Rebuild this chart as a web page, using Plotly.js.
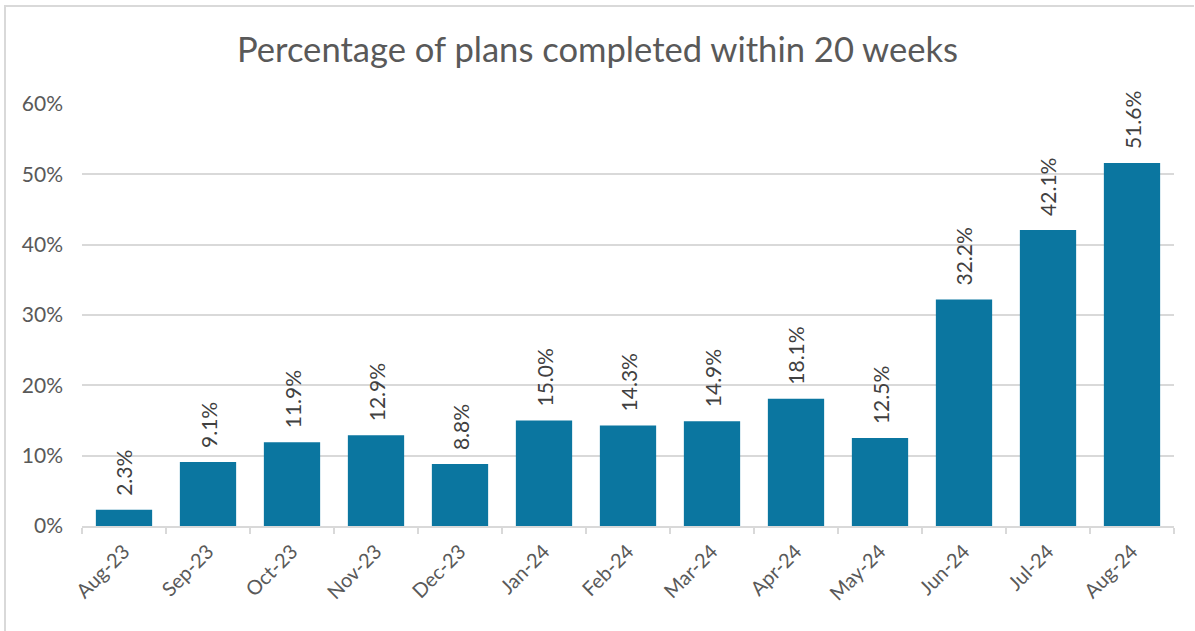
<!DOCTYPE html>
<html>
<head>
<meta charset="utf-8">
<script src="https://cdn.plot.ly/plotly-3.0.1.min.js"></script>
<style>
html,body{margin:0;padding:0;background:#fff;overflow:hidden;width:1195px;height:631px;}
#chart{width:1195px;height:631px;}
</style>
</head>
<body>
<div id="chart"></div>
<script>
const months = ["Aug-23","Sep-23","Oct-23","Nov-23","Dec-23","Jan-24","Feb-24","Mar-24","Apr-24","May-24","Jun-24","Jul-24","Aug-24"];
const pctCompleted = [2.3, 9.1, 11.9, 12.9, 8.8, 15.0, 14.3, 14.9, 18.1, 12.5, 32.2, 42.1, 51.6];
const yTickVals = [0, 10, 20, 30, 40, 50, 60];
const yTickText = ["0%","10%","20%","30%","40%","50%","60%"];
const chartTitle = "Percentage of plans completed within 20 weeks";

const FONT = "Lato, sans-serif";
const W = 1195, H = 631, ML = 82, MR = 21, MT = 104, MB = 105;
const pw = W - ML - MR, ph = H - MT - MB;
const px2x = p => (p - ML) / pw;
const py2y = p => (H - MB - p) / ph;

const trace = {
  type: "bar",
  x: months,
  y: pctCompleted,
  marker: {color: "#0b76a0"},
  hoverinfo: "none"
};

const labels = months.map((m, i) => ({
  x: m, y: pctCompleted[i], xref: "x", yref: "y",
  text: pctCompleted[i].toFixed(1) + "%",
  showarrow: false, textangle: -90,
  xanchor: "center", yanchor: "bottom", yshift: 12,
  font: {family: FONT, size: 21, color: "#404040"}
}));

const frameStyle = {color: "#d9d9d9", width: 2};
const frame = [
  {type: "line", xref: "paper", yref: "paper", x0: px2x(5), x1: px2x(5), y0: py2y(6), y1: py2y(H + 5), line: frameStyle},
  {type: "line", xref: "paper", yref: "paper", x0: px2x(4), x1: px2x(W - 1), y0: py2y(6), y1: py2y(6), line: frameStyle}
];

const layout = {
  width: W, height: H,
  margin: {l: ML, r: MR, t: MT, b: MB},
  paper_bgcolor: "#fff",
  plot_bgcolor: "#fff",
  bargap: 0.33,
  showlegend: false,
  annotations: labels,
  shapes: frame,
  title: {
    text: chartTitle,
    font: {family: FONT, size: 34.6, color: "#595959"},
    x: 0.5, xref: "container", xanchor: "center",
    y: 1 - 50/631, yref: "container", yanchor: "middle"
  },
  xaxis: {
    type: "category",
    tickangle: -45,
    tickfont: {family: FONT, size: 20, color: "#595959"},
    showline: true, linecolor: "#d9d9d9", linewidth: 2,
    ticks: "outside", tickson: "boundaries", ticklen: 6, tickcolor: "#d9d9d9", tickwidth: 2,
    ticklabelstandoff: 4,
    showgrid: false
  },
  yaxis: {
    range: [0, 60],
    tickvals: yTickVals,
    ticktext: yTickText,
    tickfont: {family: FONT, size: 21, color: "#595959"},
    showgrid: true, gridcolor: "#d9d9d9", gridwidth: 2,
    zeroline: false, showline: false, ticks: "", ticklabelstandoff: 18
  }
};

Plotly.newPlot("chart", [trace], layout, {displayModeBar: false, staticPlot: true});
</script>
</body>
</html>
